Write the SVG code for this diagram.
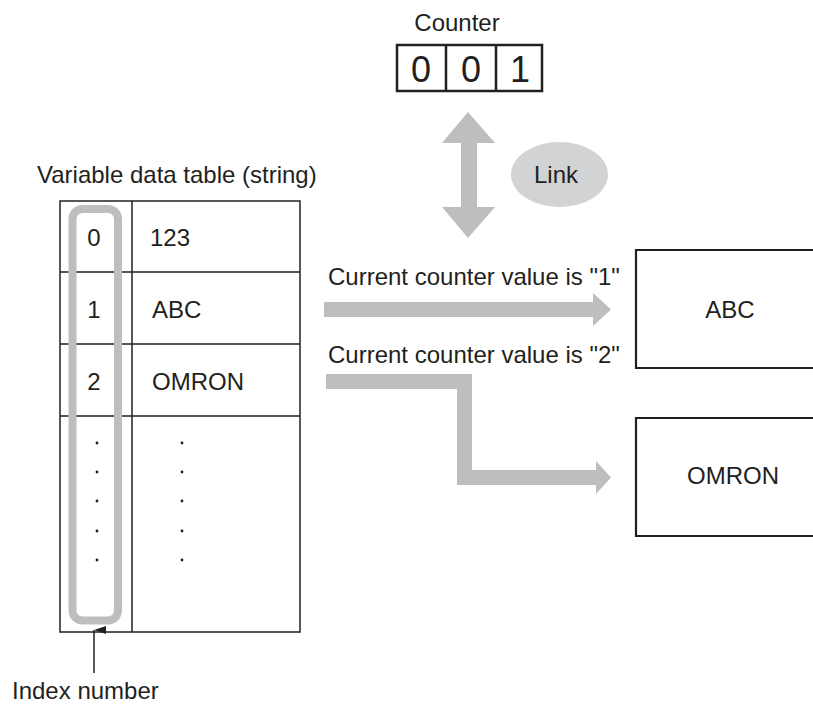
<svg xmlns="http://www.w3.org/2000/svg" width="813" height="704" viewBox="0 0 813 704">
<style>
text{font-family:"Liberation Sans",Arial,sans-serif;font-size:24px;fill:#231f20}
.mid{text-anchor:middle}
.big{font-size:36px}
.ln{fill:none;stroke:#231f20;stroke-width:1.5}
.bx{fill:#fff;stroke:#231f20;stroke-width:2.2}
.gray{fill:#bcbec0;stroke:none}
.dot{fill:#231f20}
</style>
<defs>
<marker id="ah" markerWidth="8" markerHeight="12" refX="4" refY="0" orient="auto" markerUnits="userSpaceOnUse" viewBox="0 0 8 12">
<path d="M0,12 L4,0 L8,12 Z" fill="#231f20"/>
</marker>
</defs>
<rect width="813" height="704" fill="#fff"/>

<g id="counter">
<text class="mid" x="457" y="31">Counter</text>
<rect class="bx" x="397" y="45" width="145" height="46" style="stroke-width:2.5"/>
<line x1="446" y1="45" x2="446" y2="91" stroke="#231f20" stroke-width="2.5"/>
<line x1="496" y1="45" x2="496" y2="91" stroke="#231f20" stroke-width="2.5"/>
<text class="mid big" x="421" y="82">0</text>
<text class="mid big" x="471" y="82">0</text>
<text class="mid big" x="520" y="82">1</text>
</g>

<g id="link">
<ellipse cx="559.5" cy="174.5" rx="48.5" ry="32.5" fill="#d1d3d4"/>
<text class="mid" x="556" y="183">Link</text>
</g>

<g id="table">
<text x="37" y="183">Variable data table (string)</text>
<rect class="ln" x="60" y="201" width="240" height="431"/>
<line class="ln" x1="132" y1="201" x2="132" y2="632"/>
<line class="ln" x1="60" y1="272" x2="300" y2="272"/>
<line class="ln" x1="60" y1="344" x2="300" y2="344"/>
<line class="ln" x1="60" y1="416" x2="300" y2="416"/>
<rect x="72.5" y="209" width="45.5" height="411.5" rx="10" ry="10" fill="none" stroke="#bcbec0" stroke-width="8"/>
<text class="mid" x="94" y="246">0</text>
<text class="mid" x="94" y="318">1</text>
<text class="mid" x="94" y="390">2</text>
<text x="150" y="246">123</text>
<text x="152" y="318">ABC</text>
<text x="152" y="390">OMRON</text>
<g class="dot">
<circle cx="97" cy="443" r="1.4"/><circle cx="97" cy="472" r="1.4"/><circle cx="97" cy="501" r="1.4"/><circle cx="97" cy="531" r="1.4"/><circle cx="97" cy="560" r="1.4"/>
<circle cx="182" cy="443" r="1.4"/><circle cx="182" cy="472" r="1.4"/><circle cx="182" cy="501" r="1.4"/><circle cx="182" cy="531" r="1.4"/><circle cx="182" cy="560" r="1.4"/>
</g>
<text x="12" y="699">Index number</text>
</g>

<g id="box-abc">
<path class="bx" d="M814,250 H636 V368 H814"/>
<text class="mid" x="730" y="318">ABC</text>
</g>

<g id="box-omron">
<path class="bx" d="M814,418 H636 V536 H814"/>
<text class="mid" x="733" y="484">OMRON</text>
</g>

<g id="connectors">
<path class="gray" d="M468,112 L495,143 H477 V207 H495 L468,238 L442,207 H461 V143 H442 Z"/>
<text x="328" y="285">Current counter value is "1"</text>
<path class="gray" d="M324,302 H593 V293 L611,309.5 L593,326 V317 H324 Z"/>
<text x="328" y="363">Current counter value is "2"</text>
<path class="gray" d="M326,374 H472 V470 H596 V461 L611,477.5 L596,494 V485 H457 V389 H326 Z"/>
<line x1="94" y1="673" x2="94" y2="630" stroke="#231f20" stroke-width="1.5" marker-end="url(#ah)"/>
</g>
</svg>
